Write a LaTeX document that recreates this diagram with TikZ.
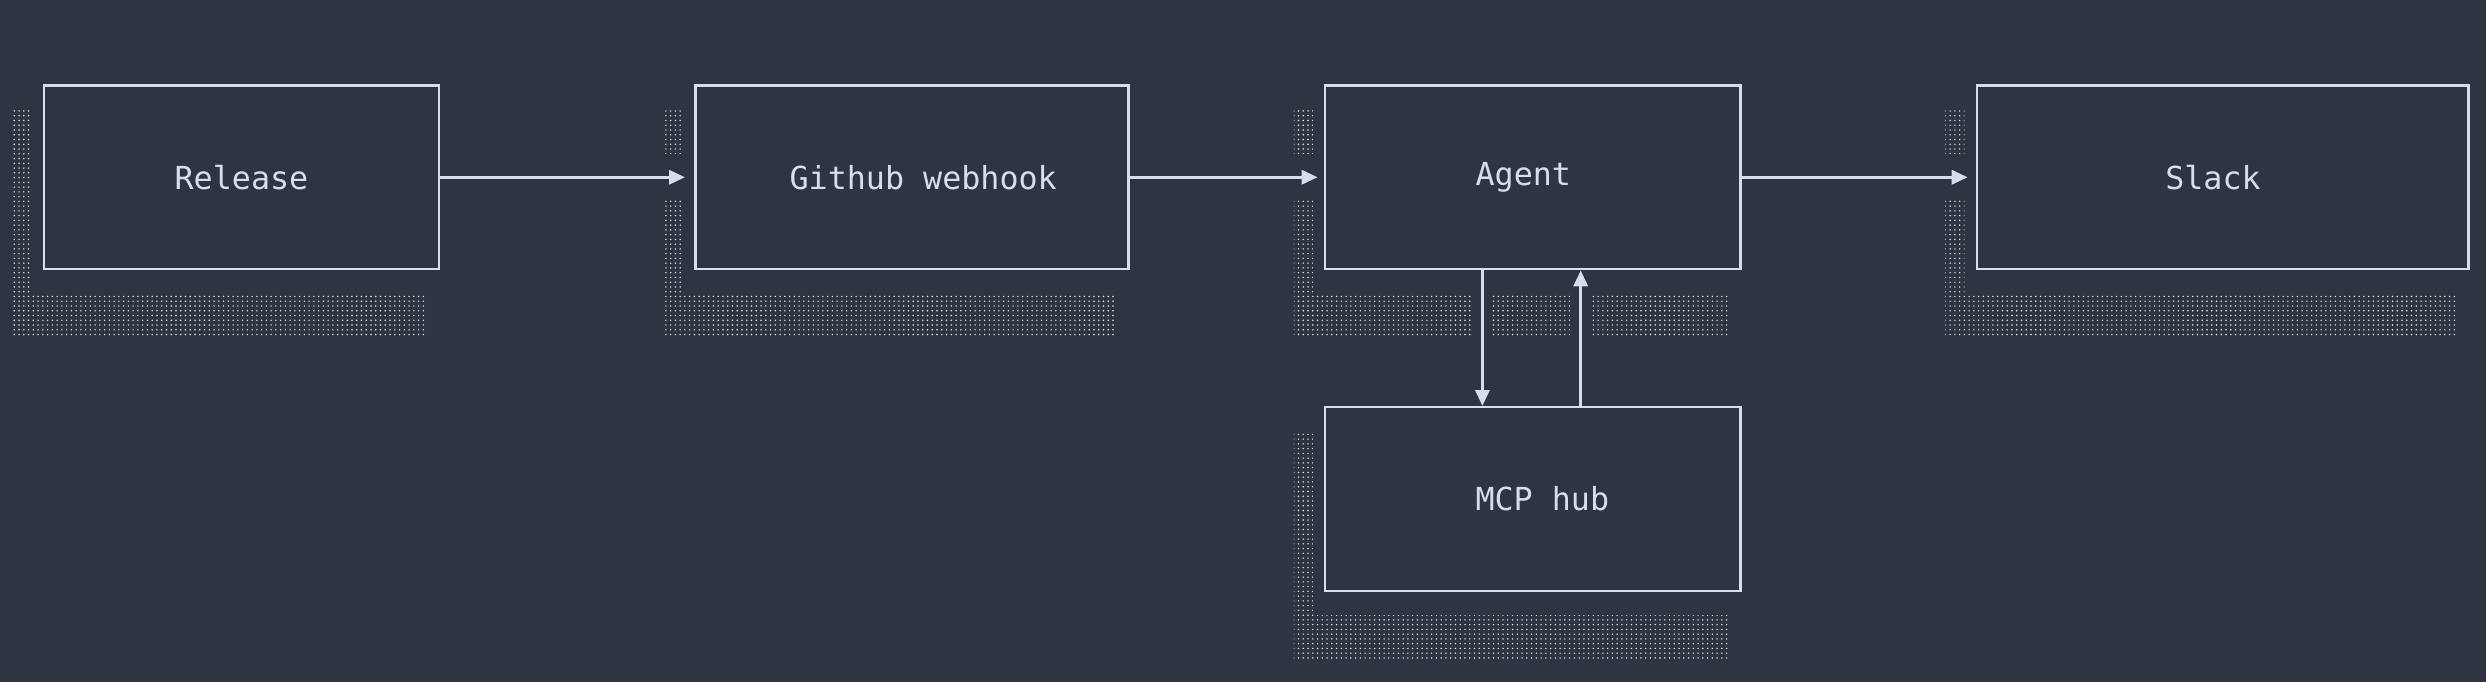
\documentclass[tikz,border=0pt]{standalone}
\usepackage{fontspec}
\setmonofont{DejaVu Sans Mono}
\usetikzlibrary{patterns,arrows.meta}
\definecolor{bg}{HTML}{2E3440}
\definecolor{fg}{HTML}{D8DEE9}
\definecolor{sh}{HTML}{E5E9F0}
\begin{document}
\begin{tikzpicture}[x=1pt,y=-1pt,
  box/.style={draw=fg,line width=1.6pt,fill=bg,minimum width=#1,minimum height=116pt,anchor=north west,inner sep=0pt,text=fg,font=\ttfamily\fontsize{20}{24}\selectfont},
  shad/.style={pattern=dots,pattern color=sh},
  gap/.style={fill=bg},
  arr/.style={draw=fg,line width=1.6pt,-{Triangle[length=10pt,width=9pt]}}]
\fill[bg] (0,0) rectangle (1568,430);
\useasboundingbox (0,0) rectangle (1568,430);
\newcommand{\shd}[3]{%
  \fill[shad] (#1-19,#3+16) rectangle (#1-7,#3+116+16);
  \fill[shad] (#1-19,#3+116+16) rectangle (#2-7,#3+116+44);}
\shd{27}{276}{53}
\shd{438}{711}{53}
\shd{835}{1097}{53}
\shd{1246}{1556}{53}
\shd{835}{1097}{256}
\fill[gap] (415,97) rectangle (434,125);
\fill[gap] (812,97) rectangle (832,125);
\fill[gap] (1223,97) rectangle (1243,125);
\fill[gap] (928,182) rectangle (941,216);
\fill[gap] (990,182) rectangle (1003,216);
\node[box=249pt] (rel) at (27,53) {Release};
\node[box=273pt] (gh) at (438,53) {\hspace*{14pt}Github webhook};
\node[box=262pt] (ag) at (835,53) {Agent\hspace*{12pt}};
\node[box=310pt] (sl) at (1246,53) {Slack\hspace*{12pt}};
\node[box=262pt] (mcp) at (835,256) {\hspace*{12pt}MCP hub};
\draw[arr] (rel.east) -- ([xshift=-6pt]gh.west);
\draw[arr] (gh.east) -- ([xshift=-4pt]ag.west);
\draw[arr] (ag.east) -- ([xshift=-5pt]sl.west);
\draw[arr] (ag.south west) ++(100,0) coordinate (a1) (a1) -- (a1 |- mcp.north);
\draw[arr] (mcp.north west) ++(162,0) coordinate (a2) (a2) -- (a2 |- ag.south);
\end{tikzpicture}
\end{document}
